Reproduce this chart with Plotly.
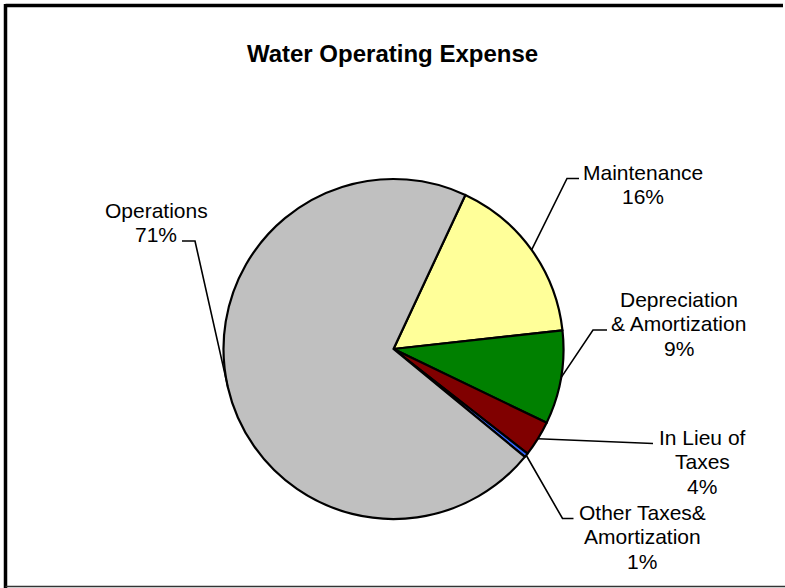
import math
import plotly.graph_objects as go

# ---- data ----
categories = ["Maintenance", "Depreciation & Amortization", "In Lieu of Taxes",
              "Other Taxes& Amortization", "Operations"]
label_lines = [["Maintenance"], ["Depreciation", "& Amortization"], ["In Lieu of", "Taxes"],
               ["Other Taxes&", "Amortization"], ["Operations"]]
values = [16.3, 8.9, 3.4, 0.4, 71.0]
pct_labels = ["16%", "9%", "4%", "1%", "71%"]
colors = ["#FFFF99", "#008000", "#800000", "#3366FF", "#C0C0C0"]

W, H = 785, 588
CX, CY, R = 393.5, 349.0, 170.0
ROT = 25.0
FONT = "Arial, Liberation Sans, sans-serif"


def px(x):
    return x / W


def py(y):
    return 1 - y / H


fig = go.Figure()
fig.add_trace(go.Pie(
    labels=categories,
    values=values,
    sort=False,
    direction="clockwise",
    rotation=ROT,
    marker=dict(colors=colors, line=dict(color="black", width=2.2)),
    textinfo="none",
    hoverinfo="label+percent",
    showlegend=False,
    domain=dict(x=[px(CX - R), px(CX + R)], y=[py(CY + R), py(CY - R)]),
))

# label layout: elbow point, end of leader, text centre x, first line centre y
label_layout = [
    dict(elbow=(567, 178.5), end=(579, 178.5), tx=642.5, ty=172),
    dict(elbow=(593, 330), end=(607, 330), tx=678.5, ty=299),
    dict(elbow=None, end=(653, 443.5), tx=702, ty=437),
    dict(elbow=(562.5, 518.5), end=(573.5, 518.5), tx=642, ty=512),
    dict(elbow=(195, 241), end=(182, 241), tx=156, ty=210),
]
LINE_STEP = 24.5

shapes = []
annotations = []
total = sum(values)
cum = 0.0
for i, v in enumerate(values):
    mid = ROT + (cum + v / 2) / total * 360.0
    cum += v
    a = math.radians(mid)
    ax, ay = CX + R * math.sin(a), CY - R * math.cos(a)
    lay = label_layout[i]
    pts = [(ax, ay)]
    if lay["elbow"]:
        pts.append(lay["elbow"])
    pts.append(lay["end"])
    path = "M " + " L ".join(f"{px(x):.5f},{py(y):.5f}" for x, y in pts)
    shapes.append(dict(type="path", path=path, xref="paper", yref="paper",
                       line=dict(color="black", width=1.6)))
    lines = label_lines[i] + [pct_labels[i]]
    for k, t in enumerate(lines):
        annotations.append(dict(x=px(lay["tx"]), y=py(lay["ty"] + k * LINE_STEP),
                                xref="paper", yref="paper", text=t, showarrow=False,
                                xanchor="center", yanchor="middle",
                                font=dict(family=FONT, size=21, color="black")))

# chart frame (thick top/left, thin bottom)
shapes.append(dict(type="line", xref="paper", yref="paper",
                   x0=px(5.5), x1=px(783), y0=py(5.5), y1=py(5.5),
                   line=dict(color="black", width=3.5)))
shapes.append(dict(type="line", xref="paper", yref="paper",
                   x0=px(5.5), x1=px(5.5), y0=py(4), y1=py(588),
                   line=dict(color="black", width=3.5)))
shapes.append(dict(type="line", xref="paper", yref="paper",
                   x0=px(5.5), x1=px(785), y0=py(586.5), y1=py(586.5),
                   line=dict(color="#333333", width=1.5)))

fig.update_layout(
    width=W, height=H,
    margin=dict(l=0, r=0, t=0, b=0),
    paper_bgcolor="white",
    plot_bgcolor="white",
    title=dict(text="<b>Water Operating Expense</b>", x=0.5, xanchor="center",
               y=py(54), yanchor="middle",
               font=dict(family=FONT, size=24, color="black")),
    shapes=shapes,
    annotations=annotations,
)

fig.write_html("out.html",
               config={"displayModeBar": False},
               post_script="document.body.style.margin='0';document.body.style.padding='0';")
